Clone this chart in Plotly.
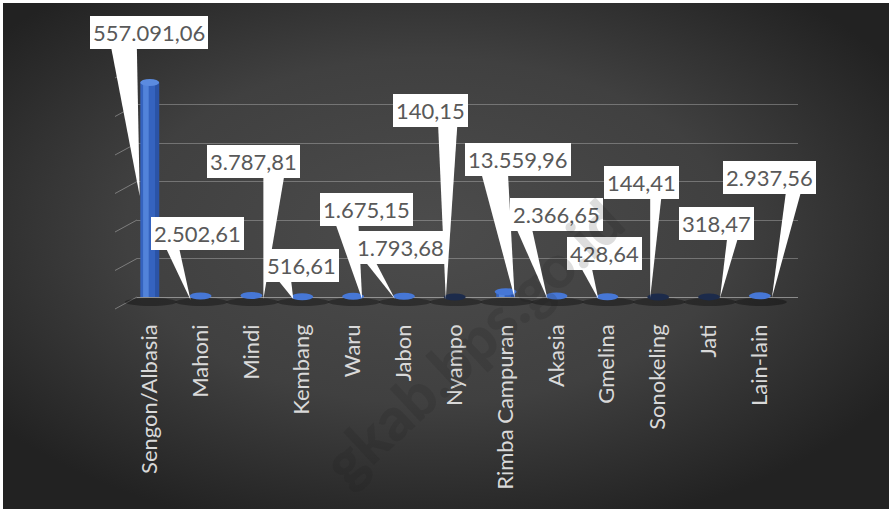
import base64
import plotly.graph_objects as go

# ---------------- data ----------------
categories = ["Sengon/Albasia", "Mahoni", "Mindi", "Kembang", "Waru", "Jabon", "Nyampo",
              "Rimba Campuran", "Akasia", "Gmelina", "Sonokeling", "Jati", "Lain-lain"]
values = [557091.06, 2502.61, 3787.81, 516.61, 1675.15, 1793.68, 140.15,
          13559.96, 2366.65, 428.64, 144.41, 318.47, 2937.56]
y_ticks = [0, 100000, 200000, 300000, 400000, 500000, 600000]

# ---------------- callout layout (pixel offsets from each category's base) ----------------
box_dx = [-1, -3, 2, -1, 13, -3, -24, 12, 0, -3, -17, 7, 10]
box_dy = [265, 64, 136, 32, 88, 50, 187, 138, 83, 44, 115, 74, 120]
wedge_left = [-40, -38, 12, -30, -20, -44, -17, -26, -43, -30, -8, 19, 27]
wedge_right = [-13, -23, 34, -12, 5, -32, 3, 2, -26, -17, 4, 31, 43]
tip_dx = [-10, -10, 12, -9, 9, -9, -9, 9, -9, -9, -8, 11, 12]
tip_dy = [101, -3, -2, -2, -2, -2, -2, -1, -2, -2, -1, -1, -1]

X_RANGE = [-0.25, 12.75]
Y_RANGE = [0, 600000]


def fmt_id(v):
    s = f"{v:,.2f}"
    return s.replace(",", "X").replace(".", ",").replace("X", ".")


def xpaper(i):
    return (i - X_RANGE[0]) / (X_RANGE[1] - X_RANGE[0])


def ypaper(v):
    return (v - Y_RANGE[0]) / (Y_RANGE[1] - Y_RANGE[0])


labels = [fmt_id(v) for v in values]

# ---------------- background gradient (svg) ----------------
svg = """<svg xmlns='http://www.w3.org/2000/svg' width='886' height='506' viewBox='0 0 886 506' preserveAspectRatio='none'>
<defs><radialGradient id='g' cx='48%' cy='45%' r='62%'>
<stop offset='0' stop-color='#4c4c4c'/>
<stop offset='0.55' stop-color='#404040'/>
<stop offset='1' stop-color='#222222'/>
</radialGradient></defs>
<rect width='886' height='506' fill='url(#g)'/></svg>"""
bg_uri = "data:image/svg+xml;base64," + base64.b64encode(svg.encode()).decode()

W, H = 889, 509
ML, MR, MT, MB = 137, 91, 66, 212
pw = W - ML - MR
ph = H - MT - MB

FONT = "Lato, 'Noto Sans', sans-serif"

fig = go.Figure()

fig.add_trace(go.Bar(x=categories, y=values, width=0.37, offset=-0.185,
                     marker=dict(color="#3563bf", line=dict(width=0)), hoverinfo="x+y"))
fig.add_trace(go.Bar(x=categories, y=values, width=0.11, offset=-0.13,
                     marker=dict(color="#5283da", line=dict(width=0)), hoverinfo="skip"))
fig.add_trace(go.Bar(x=categories, y=values, width=0.08, offset=0.105,
                     marker=dict(color="#2b53a6", line=dict(width=0)), hoverinfo="skip"))

shapes = []
# left wall diagonals of the gridlines
for t in y_ticks:
    shapes.append(dict(type="path", xref="paper", yref="paper", xsizemode="pixel", ysizemode="pixel",
                       xanchor=0, yanchor=ypaper(t), path="M -22,-12 L 0,0",
                       line=dict(color="rgba(200,200,200,0.45)", width=1), layer="above"))
# floor shadows
for i, v in enumerate(values):
    shapes.append(dict(type="circle", xref="paper", yref="paper", xsizemode="pixel", ysizemode="pixel",
                       xanchor=xpaper(i), yanchor=0, x0=-25, x1=27, y0=-1, y1=-9,
                       fillcolor="rgba(0,0,0,0.35)", line=dict(width=0), layer="above"))
# cylinder tops
for i, v in enumerate(values):
    col = "#5b8be0" if v > 100000 else ("#4677d6" if v >= 400 else "#1c2b4b")
    w = 9.5 if v > 100000 else 11
    shapes.append(dict(type="circle", xref="paper", yref="paper", xsizemode="pixel", ysizemode="pixel",
                       xanchor=xpaper(i), yanchor=ypaper(v), x0=-w, x1=w, y0=-3.5, y1=3.5,
                       fillcolor=col, line=dict(width=0), layer="above"))
# callout wedges
for i, v in enumerate(values):
    by = box_dy[i] - 8
    path = (f"M {wedge_left[i]},{by} L {wedge_right[i]},{by} "
            f"L {tip_dx[i]},{tip_dy[i]} Z")
    shapes.append(dict(type="path", xref="paper", yref="paper", xsizemode="pixel", ysizemode="pixel",
                       xanchor=xpaper(i), yanchor=0, path=path,
                       fillcolor="white", line=dict(width=0), layer="above"))

annotations = []
for i, c in enumerate(categories):
    annotations.append(dict(x=c, y=0, xref="x", yref="y", showarrow=False,
                            xshift=box_dx[i], yshift=box_dy[i], xanchor="center", yanchor="middle",
                            text=labels[i], bgcolor="white", borderpad=3, borderwidth=0,
                            font=dict(family=FONT, size=22, color="#595959")))
annotations.append(dict(x=0, y=0, xref="paper", yref="paper", showarrow=False,
                        xanchor="center", yanchor="middle",
                        xshift=335, yshift=-45, text="gkab.bps.go.id", textangle=-43,
                        font=dict(family=FONT, size=60, weight=900, color="rgba(30,30,30,0.15)")))

fig.update_layout(
    width=W, height=H,
    margin=dict(l=ML, r=MR, t=MT, b=MB, pad=0),
    paper_bgcolor="white", plot_bgcolor="rgba(0,0,0,0)",
    barmode="overlay", showlegend=False,
    shapes=shapes, annotations=annotations,
    images=[dict(source=bg_uri, xref="paper", yref="paper",
                 x=(3 - ML) / pw, y=1 + (MT - 3) / ph,
                 sizex=(W - 3) / pw, sizey=(H - 3) / ph,
                 xanchor="left", yanchor="top", sizing="stretch", layer="below")],
    xaxis=dict(type="category", range=X_RANGE, showgrid=False, zeroline=False,
               showline=False, ticks="", tickangle=-90, ticklabelstandoff=22,
               tickfont=dict(family=FONT, size=22, color="#d9d9d9")),
    yaxis=dict(range=Y_RANGE, tickvals=y_ticks, showticklabels=False, showgrid=True,
               gridcolor="rgba(200,200,200,0.38)", gridwidth=1, zeroline=True,
               zerolinecolor="rgba(210,210,210,0.55)", zerolinewidth=1, showline=False),
)

fig.write_html("out.html", config={"displayModeBar": False},
               post_script="document.body.style.margin='0px';document.body.style.overflow='hidden';")
